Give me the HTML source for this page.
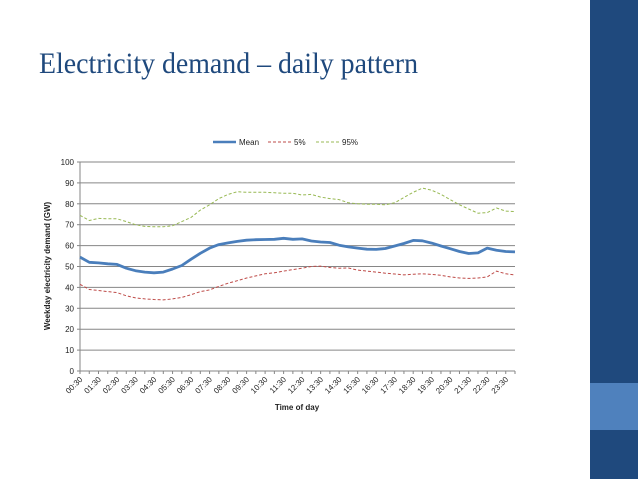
<!DOCTYPE html>
<html><head><meta charset="utf-8"><style>
html,body{margin:0;padding:0;background:#fff;width:638px;height:479px;overflow:hidden}
svg{display:block}
text{font-family:"Liberation Sans",sans-serif}
</style></head><body>
<svg id="chart" width="638" height="479" xmlns="http://www.w3.org/2000/svg">
<rect x="590" y="0" width="48" height="479" fill="#1f497d"/>
<rect x="590" y="383" width="48" height="47" fill="#4f81bd"/>
<text x="39" y="73" font-family="Liberation Serif, serif" font-size="30" fill="#1f497d" textLength="379" lengthAdjust="spacingAndGlyphs" style="font-family:'Liberation Serif',serif">Electricity demand – daily pattern</text>
<g>
<g><line x1="213" y1="142" x2="236" y2="142" stroke="#4a7ebb" stroke-width="2.5"/><text x="239" y="145" font-size="8" fill="#222">Mean</text></g>
<g><line x1="268" y1="142" x2="291" y2="142" stroke="#be4b48" stroke-width="1" stroke-dasharray="3,2"/><text x="294" y="145" font-size="8" fill="#222">5%</text></g>
<g><line x1="316" y1="142" x2="339" y2="142" stroke="#98b954" stroke-width="1" stroke-dasharray="3,2"/><text x="342" y="145" font-size="8" fill="#222">95%</text></g>
</g>
<g id="grid"></g>
<g id="yaxis"></g>
<g id="xaxis"></g>
<g id="series"></g>
<text transform="translate(50,266) rotate(-90)" text-anchor="middle" font-size="8" font-weight="bold" fill="#222">Weekday electricity demand (GW)</text>
<text x="297" y="410" text-anchor="middle" font-size="8" font-weight="bold" fill="#222">Time of day</text>
</svg>
<script>
const meanVals=[54.5,52,51.7,51.3,51,49.2,48,47.3,47,47.3,48.8,50.5,53.5,56.3,58.8,60.5,61.3,62,62.6,62.8,62.9,63,63.5,63,63.2,62.2,61.7,61.5,60.2,59.4,58.8,58.3,58.2,58.6,59.8,61,62.5,62.3,61.2,59.8,58.5,57.2,56.2,56.5,58.8,57.8,57.2,57];
const p5Vals=[41.5,39,38.5,38,37.5,36,35,34.5,34.2,34,34.5,35.2,36.5,38,38.8,40.5,42,43.2,44.5,45.5,46.5,47,47.8,48.5,49.2,50,50.2,49.5,49.2,49.3,48.3,47.8,47.3,46.8,46.4,46,46.3,46.5,46.2,45.8,45,44.5,44.3,44.5,45,47.8,46.5,46];
const p95Vals=[74.5,72,73,72.8,72.8,71.5,70,69.2,69,69,69.5,71.5,73.5,77,79.5,82.5,84.5,85.8,85.5,85.5,85.5,85.3,85,85,84.2,84.5,83.2,82.5,82,80.5,80,79.8,79.8,79.5,80.5,83,85.5,87.5,86.5,84.5,82,79.5,77.5,75.5,75.8,78,76.5,76.3];
const yTicks=[0,10,20,30,40,50,60,70,80,90,100];
const categories=[];
for(let h=0;h<24;h++){categories.push(String(h).padStart(2,'0')+':30');categories.push(String(h+1).padStart(2,'0')+':00');}
const NS='http://www.w3.org/2000/svg';
const X0=80,X1=515,Y0=371,Y1=162;
const xs=i=>X0+i*(X1-X0)/(categories.length-1);
const ys=v=>Y0-(v-0)/(100-0)*(Y0-Y1);
function mk(tag,attrs,parent){const e=document.createElementNS(NS,tag);for(const k in attrs)e.setAttribute(k,attrs[k]);parent.appendChild(e);return e;}
const grid=document.getElementById('grid'),ya=document.getElementById('yaxis'),xa=document.getElementById('xaxis'),se=document.getElementById('series');
yTicks.forEach(t=>{
  if(t>0){const g=mk('line',{x1:X0,x2:X1,y1:ys(t),y2:ys(t),stroke:'#868686','stroke-width':1},grid);
  
  }
  const tx=mk('text',{x:X0-6,y:ys(t)+3,'text-anchor':'end','font-size':8,fill:'#222'},ya);tx.textContent=t;
  
  
  mk('line',{x1:X0-3,x2:X0,y1:ys(t),y2:ys(t),stroke:'#868686'},ya);
});
mk('line',{x1:X0,x2:X0,y1:Y1,y2:Y0,stroke:'#868686'},ya);
mk('line',{x1:X0,x2:X1,y1:Y0,y2:Y0,stroke:'#868686'},xa);
categories.forEach((c,i)=>{
  mk('line',{x1:xs(i),x2:xs(i),y1:Y0,y2:Y0+3,stroke:'#868686'},xa);
  if(i%2===0){const x=xs(i)+3,y=Y0+9;
  const t=mk('text',{x:x,y:y,'text-anchor':'end','font-size':8,fill:'#222',transform:`rotate(-45 ${x} ${y})`},xa);t.textContent=c;
  
  }
});
function line(vals,color,w,dash,name){
  const d=vals.map((v,i)=>(i?'L':'M')+xs(i).toFixed(1)+' '+ys(v).toFixed(1)).join(' ');
  const p=mk('path',{d:d,fill:'none',stroke:color,'stroke-width':w,'stroke-linejoin':'round'},se);
  if(dash)p.setAttribute('stroke-dasharray',dash);
  
  
}
line(p95Vals,'#98b954',1,'3,2','line-95pct');
line(p5Vals,'#be4b48',1,'3,2','line-5pct');
line(meanVals,'#4a7ebb',2.8,null,'line-mean');
</script>
</body></html>
